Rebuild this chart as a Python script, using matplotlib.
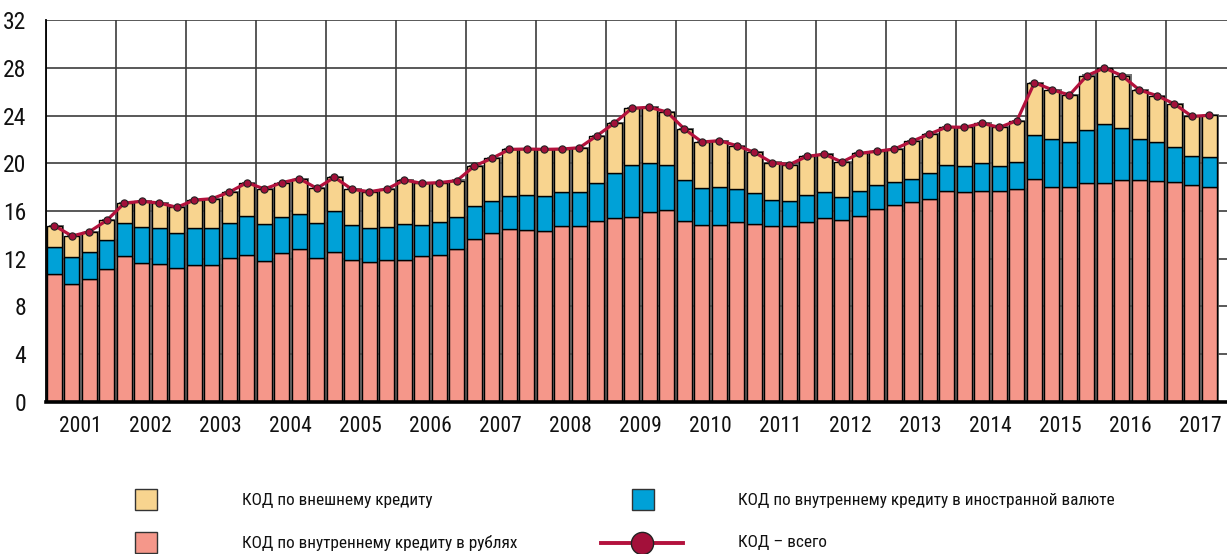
import matplotlib
matplotlib.use("Agg")
import matplotlib.pyplot as plt
from matplotlib import patheffects as pe
from matplotlib import font_manager as fm
from matplotlib.patches import Rectangle
from matplotlib.lines import Line2D
import numpy as np

plt.rcParams['font.family'] = ['DejaVu Sans']

# Quarterly data, 2001 Q1 .. 2017 Q3 (percent)
years = [str(y) for y in range(2001, 2018)]

# КОД по внутреннему кредиту в рублях
rub = [10.69, 9.87, 10.27, 11.10, 12.20, 11.66, 11.52, 11.19, 11.44, 11.50,
       12.06, 12.28, 11.78, 12.50, 12.81, 12.08, 12.59, 11.86, 11.72, 11.92,
       11.86, 12.22, 12.34, 12.78, 13.68, 14.18, 14.46, 14.43, 14.29, 14.74,
       14.77, 15.13, 15.38, 15.52, 15.89, 16.08, 15.16, 14.80, 14.85, 15.05,
       14.94, 14.74, 14.74, 15.05, 15.38, 15.24, 15.55, 16.14, 16.48, 16.76,
       16.98, 17.65, 17.57, 17.68, 17.71, 17.82, 18.69, 18.04, 17.99, 18.38,
       18.32, 18.57, 18.63, 18.52, 18.41, 18.15, 17.99]

# КОД по внутреннему кредиту в иностранной валюте
fx = [2.26, 2.24, 2.26, 2.49, 2.79, 3.03, 3.03, 2.99, 3.13, 3.10,
      2.96, 3.27, 3.10, 2.97, 2.97, 2.89, 3.38, 2.94, 2.88, 2.77,
      3.05, 2.61, 2.71, 2.74, 2.71, 2.66, 2.77, 2.91, 2.94, 2.83,
      2.82, 3.25, 3.78, 4.34, 4.11, 3.75, 3.41, 3.10, 3.14, 2.82,
      2.54, 2.18, 2.10, 2.32, 2.19, 1.93, 2.16, 2.01, 1.93, 1.93,
      2.18, 2.21, 2.21, 2.32, 2.07, 2.26, 3.69, 3.97, 3.77, 4.42,
      4.95, 4.42, 3.41, 3.30, 2.99, 2.47, 2.54]

# КОД по внешнему кредиту
ext = [1.82, 1.79, 1.74, 1.63, 1.68, 2.12, 2.12, 2.13, 2.35, 2.43,
       2.57, 2.83, 2.97, 2.91, 2.93, 2.93, 2.86, 3.02, 3.02, 3.16,
       3.69, 3.49, 3.33, 3.03, 3.39, 3.58, 3.94, 3.86, 3.94, 3.63,
       3.72, 3.94, 4.22, 4.76, 4.70, 4.48, 4.31, 3.89, 3.91, 3.61,
       3.44, 3.14, 3.05, 3.22, 3.19, 2.94, 3.13, 2.86, 2.79, 3.16,
       3.30, 3.19, 3.24, 3.36, 3.24, 3.50, 4.39, 4.17, 3.97, 4.56,
       4.73, 4.37, 4.11, 3.86, 3.58, 3.32, 3.50]

labels = ["КОД по внешнему кредиту",
          "КОД по внутреннему кредиту в иностранной валюте",
          "КОД по внутреннему кредиту в рублях",
          "КОД – всего"]

c_rub = '#F5978A'
c_fx = '#00A1D7'
c_ext = '#F8D48F'
c_line = '#B3123D'
c_mark = '#A3103A'


def pick_narrow_font():
    """Return the path of an installed condensed sans face, or None."""
    prefs = ['liberationsansnarrow', 'robotocondensed', 'dejavusanscondensed',
             'notosanscondensed', 'opensanscondensed', 'opensans_condensed']
    found = []
    for f in fm.fontManager.ttflist:
        fn = f.fname.lower().replace('-', '').replace(' ', '')
        nm = f.name.lower().replace(' ', '')
        cond = ('narrow' in fn or 'condensed' in fn or 'narrow' in nm
                or 'condensed' in nm or str(f.stretch) in
                ('condensed', 'semi-condensed', 'extra-condensed'))
        if not cond or f.style != 'normal':
            continue
        w = f.weight
        if isinstance(w, str):
            w = {'normal': 400, 'regular': 400, 'book': 400, 'medium': 500}.get(w, 700)
        if 'extra' in fn or 'semi' in fn or 'bold' in fn or 'light' in fn \
                or 'thin' in fn or 'black' in fn or 'italic' in fn:
            if not any(p in fn for p in ('regular',)):
                continue
        if w > 500:
            continue
        rank = len(prefs)
        for i, p in enumerate(prefs):
            if p in fn or p in nm + 'condensed' or p == nm:
                rank = i
                break
        found.append((rank, f.fname))
    if not found:
        return None
    found.sort()
    return found[0][1]


narrow = pick_narrow_font()


def font(size):
    if narrow:
        return fm.FontProperties(fname=narrow, size=size)
    return fm.FontProperties(family='DejaVu Sans', size=size * 0.8)


rub_a = np.array(rub)
fx_a = np.array(fx)
ext_a = np.array(ext)
total = rub_a + fx_a + ext_a
x = np.arange(len(rub))

W, H = 1227, 554
fig = plt.figure(figsize=(W / 100, H / 100), dpi=100)

left_px, right_px = 45.7, 1227
bottom_px, top_px = 401.7, 20.3
ax = fig.add_axes([left_px / W, (H - bottom_px) / H,
                   (right_px - left_px) / W, (bottom_px - top_px) / H])

shadow = [pe.SimplePatchShadow(offset=(1.6, 0.8), shadow_rgbFace='#5a5a5a', alpha=0.85),
          pe.Normal()]
bw = 0.86
kw = dict(width=bw, edgecolor='black', linewidth=1.0, zorder=3)
b1 = ax.bar(x, rub_a, color=c_rub, **kw)
b2 = ax.bar(x, fx_a, bottom=rub_a, color=c_fx, **kw)
b3 = ax.bar(x, ext_a, bottom=rub_a + fx_a, color=c_ext, **kw)
for cont in (b1, b2, b3):
    for p in cont:
        p.set_path_effects(shadow)

ax.plot(x, total, color=c_line, lw=2.3, zorder=5,
        marker='o', markersize=5.2, markerfacecolor=c_mark,
        markeredgecolor='#222222', markeredgewidth=0.8, solid_joinstyle='round')

ax.set_xlim(-0.5, (right_px - left_px) / 17.5 - 0.5)
ax.set_ylim(0, 32)
ax.set_yticks(np.arange(0, 33, 4))
ax.set_yticklabels([str(v) for v in range(0, 33, 4)])

# year gridlines at year boundaries, year labels at year centres
for k in range(len(years)):
    ax.axvline(4 * k - 0.5, color='#3c3c3c', lw=1.2, zorder=1)
ax.set_xticks([4 * k + 1.5 for k in range(len(years))])
ax.set_xticklabels(years)
for v in range(4, 33, 4):
    ax.axhline(v, color='#3c3c3c', lw=1.2, zorder=1)

for lbl in ax.get_yticklabels():
    lbl.set_fontproperties(font(17))
for lbl in ax.get_xticklabels():
    lbl.set_fontproperties(font(15.5))

ax.tick_params(axis='both', length=0, labelcolor='#111111')
ax.tick_params(axis='y', pad=14)
ax.tick_params(axis='x', pad=10)
for s in ('top', 'right'):
    ax.spines[s].set_visible(False)
ax.spines['left'].set_linewidth(1.3)
ax.spines['bottom'].set_linewidth(2.6)
ax.spines['bottom'].set_zorder(6)

# legend drawn in pixel coordinates
lg = fig.add_axes([0, 0, 1, 1], zorder=10)
lg.set_xlim(0, W)
lg.set_ylim(H, 0)
lg.axis('off')
lg.patch.set_alpha(0)


def swatch(x0, y0, color):
    lg.add_patch(Rectangle((x0, y0), 22, 21, facecolor=color,
                           edgecolor='#333333', lw=1.0))


swatch(135, 489, c_ext)
swatch(135, 532, c_rub)
swatch(632, 489, c_fx)
lg.add_line(Line2D([601, 683], [543, 543], color=c_line, lw=2.8))
lg.plot([642], [543], marker='o', markersize=16, markerfacecolor=c_mark,
        markeredgecolor='#222222', markeredgewidth=1.0)

fp_leg = font(12.4)
tk = dict(va='center', ha='left', color='#111111', fontproperties=fp_leg)
lg.text(242, 500, labels[0], **tk)
lg.text(738, 500, labels[1], **tk)
lg.text(242, 543, labels[2], **tk)
lg.text(738, 543, labels[3], **tk)

fig.savefig('out.png', dpi=100)
